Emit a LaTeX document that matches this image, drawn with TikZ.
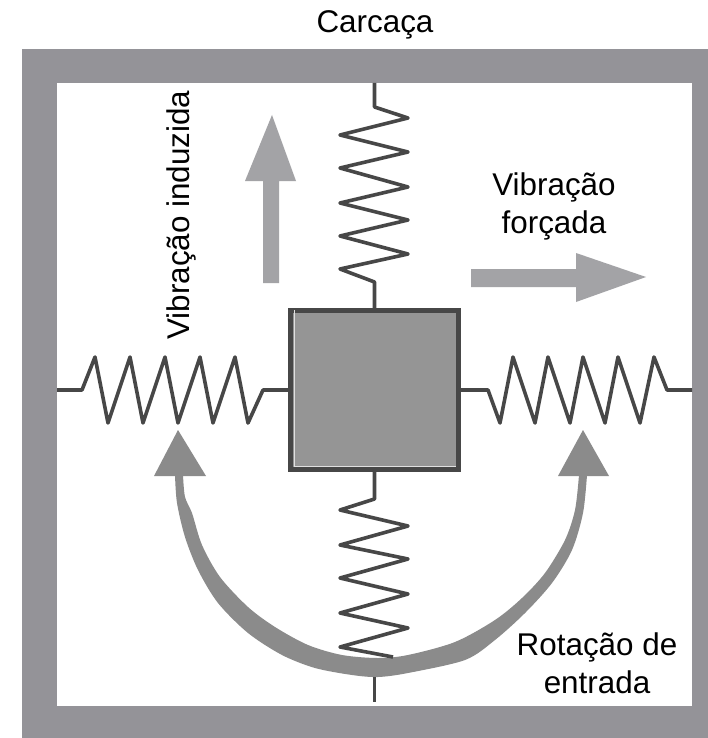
\documentclass[tikz,border=0pt]{standalone}
\usepackage{fontspec}
\setmainfont{Liberation Sans}
\usepackage{tikz}
\tikzset{
	spring/.style={line width=3.6pt, color=black!72, line join=round},
	lbl/.style={inner sep=0pt, align=center, font=\fontsize{31.4}{38}\selectfont},
	plainarrow/.style={fill=arrowgray, draw=none},
	turnarrow/.style={fill=turngray, draw=none},
}
\definecolor{framegray}{HTML}{949398}
\definecolor{arrowgray}{HTML}{A3A3A6}
\definecolor{turngray}{HTML}{8B8B8B}
\definecolor{massgray}{HTML}{959595}

\begin{document}
\begin{tikzpicture}[x=1pt, y=-1pt]
			%%%%% START %%%%%
			\useasboundingbox (0, 0) rectangle (708, 738);
			
			\draw[fill=framegray, draw=none] (22, 49) rectangle (708, 738);
			\draw[fill=white, draw=none] (57, 83) rectangle (692, 706);
			
			\node[lbl, anchor=base] (carcaca) at (375, 33) {Carcaça};
			
			\node[draw=black!72, fill=massgray, line width=4.5pt, minimum width=168pt, minimum height=159pt, inner sep=0pt] (mass) at (374.5, 390) {};
			\draw[line width=1pt, color=black!12] (294, 310) -- (294, 466.5) -- (456, 466.5);
			
			\coordinate (topend) at (374.5, 83);
			\coordinate (leftend) at (57, 390);
			\coordinate (rightend) at (692, 390);
			\coordinate (botend) at (374.5, 702);
			
			% curved arrow
			\fill[turnarrow] plot[smooth] coordinates {(175, 475) (177, 503) (185, 537) (198, 570) (218, 603) (248, 633) (282, 655) (315, 668) (352, 675) (378, 677) (408, 673) (465, 660) (495, 640) (525, 613) (552, 583) (572, 550) (583, 513) (587, 475)}
				-- plot[smooth] coordinates {(579, 475) (575, 510) (565, 540) (545, 573) (522, 598) (495, 620) (455, 642) (408, 655) (378, 658) (342, 655) (308, 645) (275, 627) (248, 607) (220, 577) (202, 545) (192, 513) (185, 497) (183, 475)} -- cycle;
			\fill[turnarrow] (178, 430) -- (206, 476) -- (154, 476) -- cycle;
			\fill[turnarrow] (583, 430) -- (609, 476) -- (558, 476) -- cycle;
			
			% springs
			\draw[spring] (topend) -- (374.5, 107) -- (408, 118) -- (340, 135) -- (408, 152) -- (340, 168) -- (408, 187) -- (340, 203) -- (408, 220) -- (340, 236) -- (408, 254) -- (340, 269) -- (374.5, 282) -- (mass.north);
			\draw[spring] (leftend) -- (82, 390) -- (95, 357) -- (108, 423) -- (130, 357) -- (143, 423) -- (165, 357) -- (178, 423) -- (200, 357) -- (213, 423) -- (235, 357) -- (248, 423) -- (263, 390) -- (mass.west);
			\draw[spring] (mass.east) -- (488, 390) -- (500, 423) -- (513, 357) -- (535, 423) -- (548, 357) -- (570, 423) -- (583, 357) -- (605, 423) -- (618, 357) -- (640, 423) -- (654, 357) -- (667, 390) -- (rightend);
			\draw[spring] (mass.south) -- (374.5, 499) -- (340, 510) -- (408, 526) -- (340, 545) -- (408, 559) -- (340, 578) -- (408, 594) -- (340, 613) -- (408, 628) -- (340, 647) -- (393, 657);
			\draw[spring] (374.5, 677) -- (botend);
			
			% straight arrows
			\fill[plainarrow] (272, 115) -- (296, 181) -- (279, 181) -- (279, 283) -- (263, 283) -- (263, 181) -- (245, 181) -- cycle;
			\fill[plainarrow] (646, 277) -- (576, 302) -- (576, 287) -- (471, 287) -- (471, 269) -- (576, 269) -- (576, 253) -- cycle;
			
			\node[lbl, anchor=base, rotate=90] (induzida) at (189, 215) {Vibração induzida};
			\node[lbl, anchor=base] (forcada) at (554, 233) {Vibração\\forçada};
			\node[lbl, anchor=base] (rotacao) at (597, 693) {Rotação de\\entrada};
			%%%%% END %%%%%
		\end{tikzpicture}
\end{document}
